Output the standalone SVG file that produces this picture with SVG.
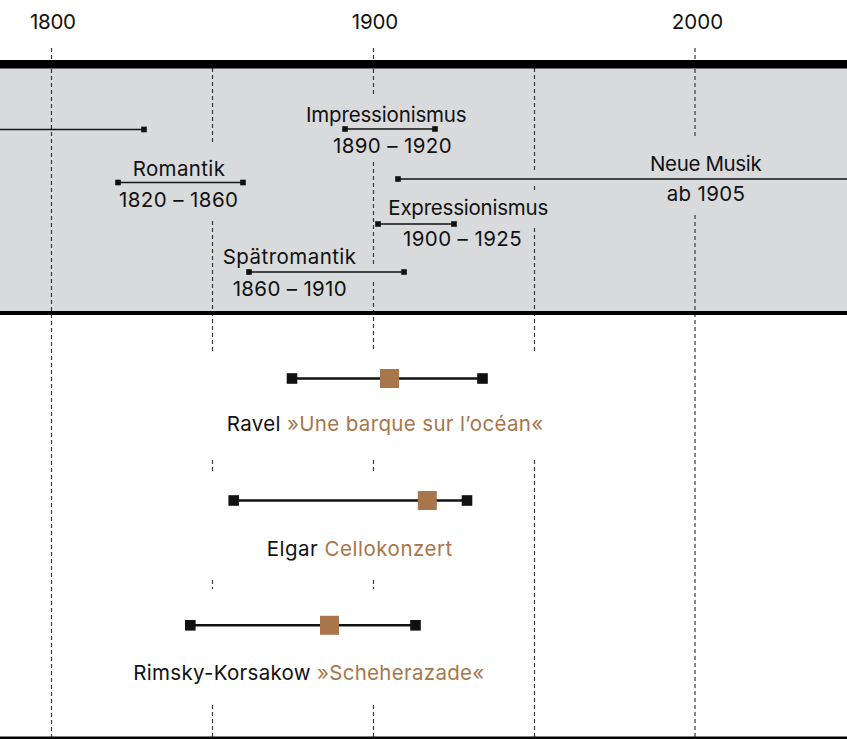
<svg xmlns="http://www.w3.org/2000/svg" width="847" height="739" viewBox="0 0 847 739">
<style>
.t{font-family:Inter,"Liberation Sans",sans-serif;font-size:20.5px;fill:#111;text-anchor:middle;font-variant-ligatures:none}
.br{fill:#a8764a}
.grid{stroke:#3a3a3a;stroke-width:1.2;stroke-dasharray:4 3;fill:none}
.rl{stroke:#111;stroke-width:1.3}
.wl{stroke:#111;stroke-width:2.5}
</style>
<defs>
<rect id="sm" x="-2.8" y="-2.8" width="5.6" height="5.6" fill="#111"/>
<rect id="bm" x="-5.3" y="-5.3" width="10.6" height="10.6" fill="#111"/>
<rect id="hm" x="-9.5" y="-9.5" width="19" height="19" fill="#a8764a"/>
</defs>
<rect width="847" height="739" fill="#fff"/>
<rect x="0" y="64" width="847" height="249" fill="#d9dadc"/>

<g id="grid">
<line class="grid" x1="51.5" y1="48" x2="51.5" y2="739"/>
<line class="grid" x1="212.5" y1="68" x2="212.5" y2="145"/>
<line class="grid" x1="212.5" y1="221" x2="212.5" y2="352"/>
<line class="grid" x1="212.5" y1="460" x2="212.5" y2="472"/>
<line class="grid" x1="212.5" y1="580" x2="212.5" y2="589"/>
<line class="grid" x1="212.5" y1="705" x2="212.5" y2="739"/>
<line class="grid" x1="373.5" y1="48" x2="373.5" y2="97"/>
<line class="grid" x1="373.5" y1="162" x2="373.5" y2="265"/>
<line class="grid" x1="373.5" y1="282" x2="373.5" y2="352"/>
<line class="grid" x1="373.5" y1="460" x2="373.5" y2="472"/>
<line class="grid" x1="373.5" y1="580" x2="373.5" y2="589"/>
<line class="grid" x1="373.5" y1="705" x2="373.5" y2="739"/>
<line class="grid" x1="534.5" y1="68" x2="534.5" y2="170"/>
<line class="grid" x1="534.5" y1="186" x2="534.5" y2="191"/>
<line class="grid" x1="534.5" y1="228" x2="534.5" y2="352"/>
<line class="grid" x1="534.5" y1="460" x2="534.5" y2="739"/>
<line class="grid" x1="695" y1="48" x2="695" y2="138"/>
<line class="grid" x1="695" y1="215" x2="695" y2="739"/>
</g>

<g id="axis">
<rect x="0" y="60" width="847" height="8.5" fill="#000"/>
<rect x="0" y="311" width="847" height="4" fill="#000"/>
<rect x="0" y="736.5" width="847" height="2.5" fill="#000"/>
<text class="t" x="53" y="29" textLength="46" lengthAdjust="spacing">1800</text>
<text class="t" x="375" y="29" textLength="46.6" lengthAdjust="spacing">1900</text>
<text class="t" x="697.5" y="29" textLength="51.6" lengthAdjust="spacing">2000</text>
</g>

<g id="period-early">
<line class="rl" x1="0" y1="129.5" x2="144" y2="129.5"/>
<use href="#sm" x="144" y="129.5"/>
</g>
<g id="impressionismus">
<line class="rl" x1="345" y1="129" x2="435" y2="129"/>
<use href="#sm" x="345" y="129"/>
<use href="#sm" x="435" y="129"/>
<text class="t" x="386.3" y="122" textLength="160.7" lengthAdjust="spacing">Impressionismus</text>
<text class="t" x="392.3" y="153" textLength="118.7" lengthAdjust="spacing">1890 – 1920</text>
</g>
<g id="romantik">
<line class="rl" x1="118" y1="182.5" x2="243" y2="182.5"/>
<use href="#sm" x="118" y="182.5"/>
<use href="#sm" x="243" y="182.5"/>
<text class="t" x="178.8" y="176" textLength="92.3" lengthAdjust="spacing">Romantik</text>
<text class="t" x="178.5" y="207" textLength="119" lengthAdjust="spacing">1820 – 1860</text>
</g>
<g id="spaetromantik">
<line class="rl" x1="249" y1="272" x2="404" y2="272"/>
<use href="#sm" x="249" y="272"/>
<use href="#sm" x="404" y="272"/>
<text class="t" x="289.4" y="264" textLength="133.3" lengthAdjust="spacing">Spätromantik</text>
<text class="t" x="289.7" y="296" textLength="114" lengthAdjust="spacing">1860 – 1910</text>
</g>
<g id="expressionismus">
<line class="rl" x1="378" y1="224" x2="454" y2="224"/>
<use href="#sm" x="378" y="224"/>
<use href="#sm" x="454" y="224"/>
<text class="t" x="468.3" y="215" textLength="160" lengthAdjust="spacing">Expressionismus</text>
<text class="t" x="462.3" y="246" textLength="118.7" lengthAdjust="spacing">1900 – 1925</text>
</g>
<g id="neue-musik">
<line class="rl" x1="398" y1="179" x2="847" y2="179"/>
<use href="#sm" x="398" y="179"/>
<text class="t" x="705.8" y="171" textLength="111.7" lengthAdjust="spacing">Neue Musik</text>
<text class="t" x="705.8" y="201" textLength="78.3" lengthAdjust="spacing">ab 1905</text>
</g>

<g id="ravel">
<line class="wl" x1="292" y1="378.5" x2="482.5" y2="378.5"/>
<use href="#bm" x="292" y="378.5"/>
<use href="#bm" x="482.5" y="378.5"/>
<use href="#hm" x="389.5" y="378.5"/>
<text class="t" x="385" y="431" textLength="316.6" lengthAdjust="spacing">Ravel <tspan class="br">»Une barque sur l’océan«</tspan></text>
</g>
<g id="elgar">
<line class="wl" x1="233.7" y1="500.5" x2="467" y2="500.5"/>
<use href="#bm" x="233.7" y="500.5"/>
<use href="#bm" x="467" y="500.5"/>
<use href="#hm" x="427.3" y="500.5"/>
<text class="t" x="359.5" y="556" textLength="185.6" lengthAdjust="spacing">Elgar <tspan class="br">Cellokonzert</tspan></text>
</g>
<g id="rimsky-korsakow">
<line class="wl" x1="190.3" y1="625.3" x2="415.5" y2="625.3"/>
<use href="#bm" x="190.3" y="625.3"/>
<use href="#bm" x="415.5" y="625.3"/>
<use href="#hm" x="329.5" y="625.3"/>
<text class="t" x="308.8" y="680" textLength="351" lengthAdjust="spacing">Rimsky-Korsakow <tspan class="br">»Scheherazade«</tspan></text>
</g>
</svg>
